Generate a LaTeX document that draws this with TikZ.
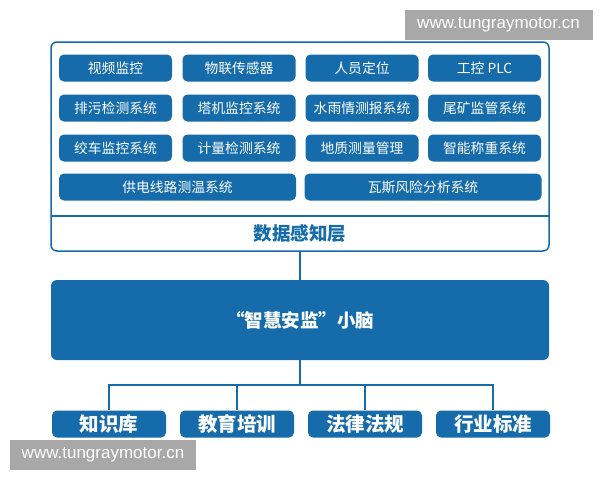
\documentclass[tikz,border=0pt]{standalone}
\usepackage{fontspec}
\setmainfont{Noto Sans CJK SC}
\newfontfamily\markfont{Liberation Sans}
\usetikzlibrary{positioning}
\definecolor{mblue}{RGB}{22, 108, 170}
\definecolor{mgray}{RGB}{168, 168, 168}
\tikzset{item/.style = {fill = mblue, rounded corners = 5, text = white, inner sep = 0, minimum width = 113, minimum height = 27, font = \fontsize{13.8}{13.8}\selectfont}}
\tikzset{base/.style = {fill = mblue, rounded corners = 5, text = white, inner sep = 0, minimum width = 114, minimum height = 27, font = \bfseries\fontsize{19.5}{19.5}\selectfont}}
\tikzset{wmark/.style = {fill = mgray, text = white, inner sep = 0, minimum height = 30, font = \markfont\fontsize{17}{17}\selectfont}}
\tikzset{link/.style = {draw = mblue, line width = 1.5}}

\begin{document}
\begin{tikzpicture}[x = 1pt, y = -1pt]
      \useasboundingbox (0, 0) rectangle (600, 480);

      % data layer frame
      \node [draw = mblue, line width = 1.5, rounded corners = 6, minimum width = 498, minimum height = 209, inner sep = 0] (sense) at (300, 146.5) {};
      \draw [mblue, line width = 1.5] (51, 216) -- (549, 216);
      \node [mblue, font = \bfseries\fontsize{18.5}{18.5}\selectfont] (layer) at (300, 234) {数据感知层};

      \node [item] (video) at (115.5, 68) {视频监控};
      \node [item] (iot) at (239, 68) {物联传感器};
      \node [item] (staff) at (362, 68) {人员定位};
      \node [item] (plc) at (484.5, 68) {工控 PLC};

      \node [item] (sewage) at (115.5, 108) {排污检测系统};
      \node [item] (crane) at (239, 108) {塔机监控系统};
      \node [item] (rain) at (362, 108) {水雨情测报系统};
      \node [item] (tailing) at (484.5, 108) {尾矿监管系统};

      \node [item] (winch) at (115.5, 148) {绞车监控系统};
      \node [item] (meter) at (239, 148) {计量检测系统};
      \node [item] (geo) at (362, 148) {地质测量管理};
      \node [item] (weigh) at (484.5, 148) {智能称重系统};

      \node [item, minimum width = 237] (power) at (177.5, 187) {供电线路测温系统};
      \node [item, minimum width = 237] (gas) at (423, 187) {瓦斯风险分析系统};

      % brain
      \node [fill = mblue, rounded corners = 6, text = white, minimum width = 498, minimum height = 80, inner sep = 0, font = \bfseries\fontsize{18.5}{18.5}\selectfont] (brain) at (300, 320) {“智慧安监”小脑};
      \draw [link] (sense.south) -- (brain.north);

      % knowledge bases
      \node [base] (know) at (109, 424) {知识库};
      \node [base] (edu) at (237, 424) {教育培训};
      \node [base] (law) at (365, 424) {法律法规};
      \node [base] (std) at (493, 424) {行业标准};

      \coordinate (fork) at (300, 385);
      \draw [link] (brain.south) -- (fork);
      \foreach \n in {know, edu, law, std}
        \draw [link] (fork) -| (\n.north);

      % watermarks
      \node [wmark, minimum width = 188] (wtop) at (498.5, 25) {www.tungraymotor.cn};
      \node [wmark, minimum width = 186] (wbot) at (103, 455) {www.tungraymotor.cn};
    \end{tikzpicture}
\end{document}
